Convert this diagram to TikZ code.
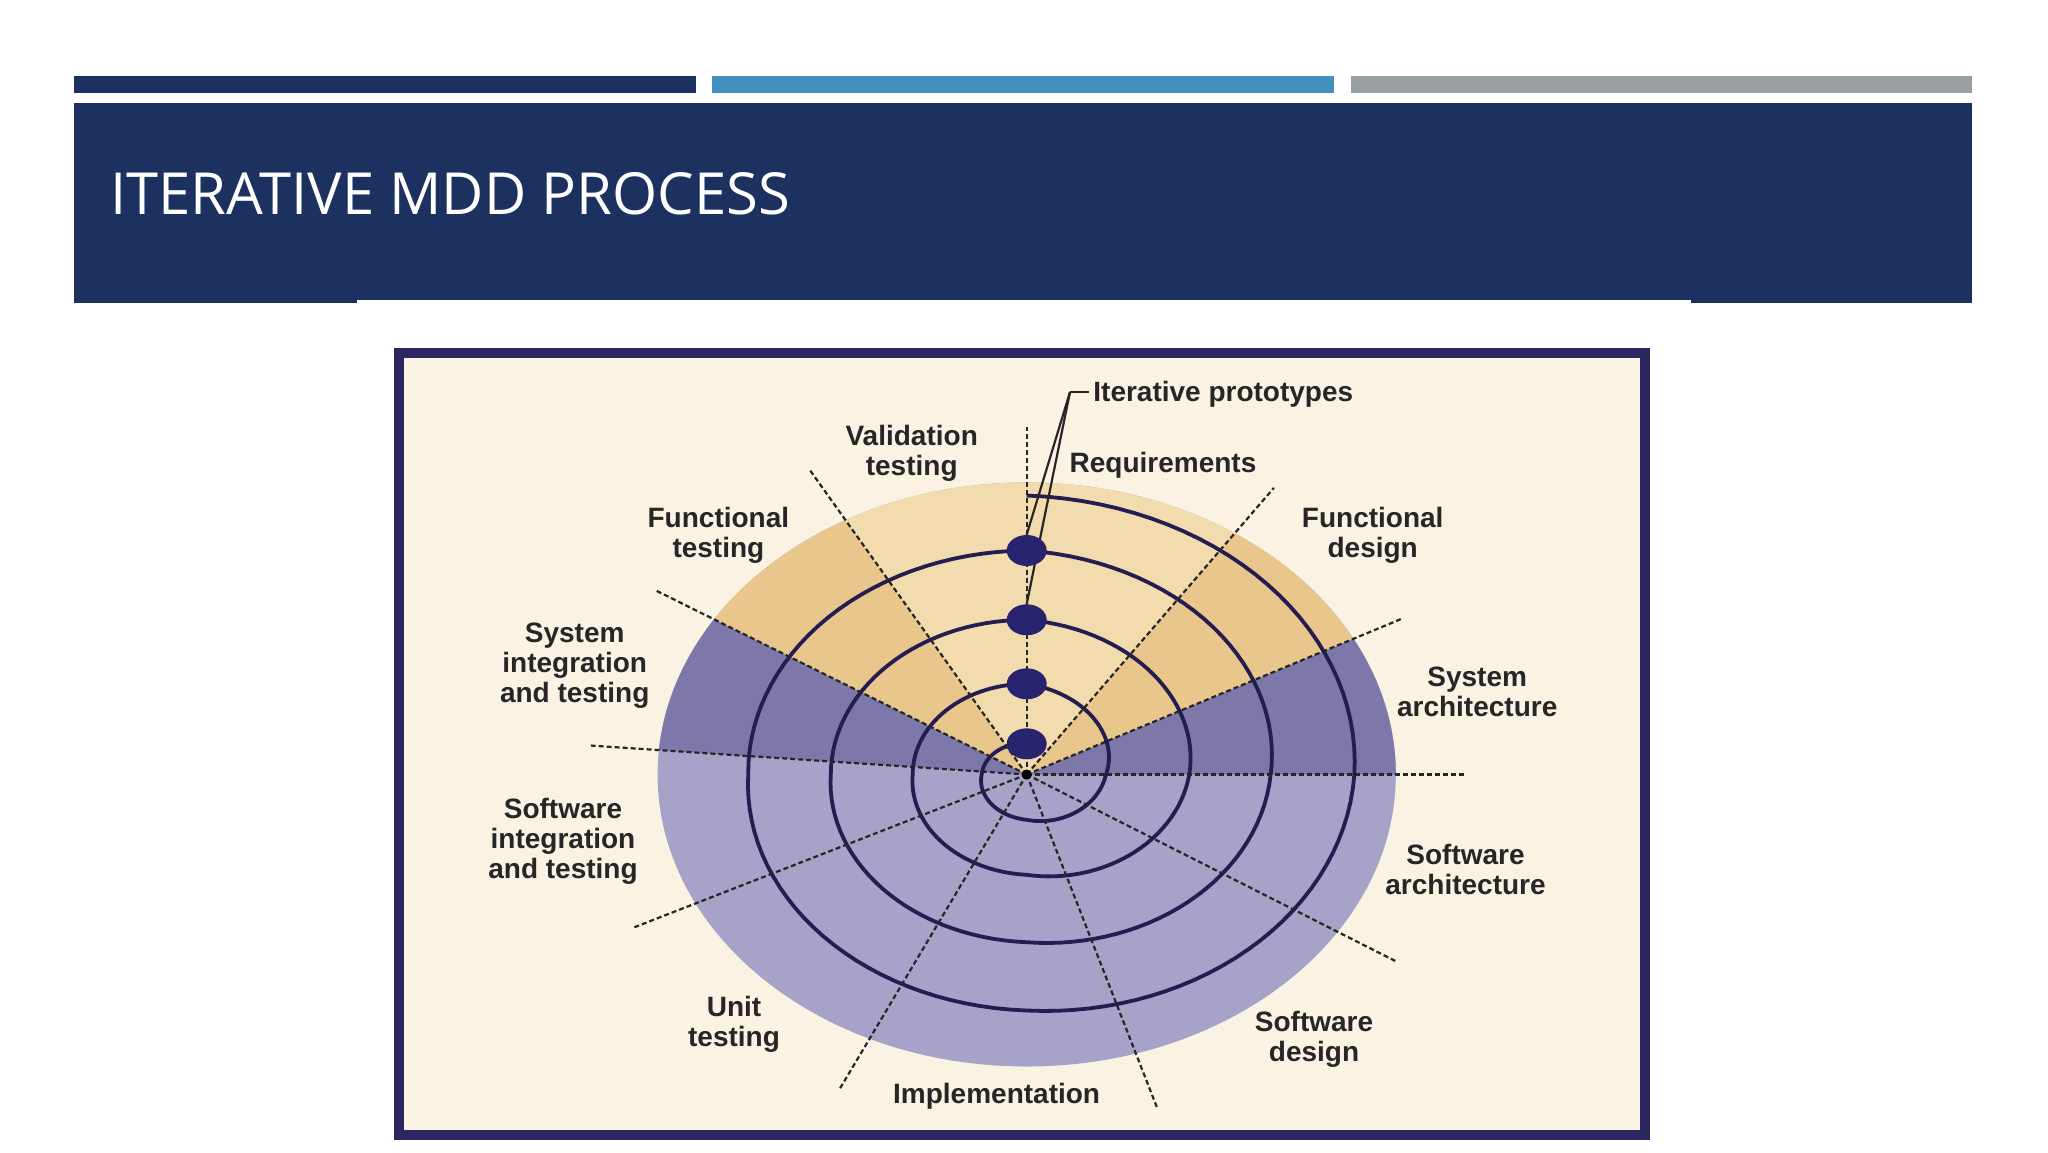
\documentclass[tikz,border=0pt]{standalone}
\usepackage{fontspec}
\setmainfont{Liberation Sans}
\newfontfamily\titlefont{Open Sans}
\usetikzlibrary{shapes.geometric}
\definecolor{navy}{HTML}{1C3160}
\definecolor{barblue}{HTML}{4390BF}
\definecolor{bargray}{HTML}{99A0A4}
\definecolor{cream}{HTML}{FAF3E3}
\definecolor{framec}{HTML}{2C2660}
\definecolor{tandark}{HTML}{E9C68C}
\definecolor{tanlight}{HTML}{F2DCAE}
\definecolor{purpdark}{HTML}{7E77AA}
\definecolor{lav}{HTML}{A7A2C7}
\definecolor{spiralc}{HTML}{241D50}
\definecolor{dotc}{HTML}{28236E}
\definecolor{labc}{HTML}{262626}
\pgfdeclarelayer{back}
\pgfdeclarelayer{mid}
\pgfsetlayers{back,mid,main}
\begin{document}
\begin{tikzpicture}[x=0.5pt,y=-0.5pt,
  lab/.style={font=\bfseries\fontsize{14pt}{15pt}\selectfont, text=labc, align=center, inner sep=0pt},
  radial/.style={draw=black!85, line width=1.1pt, dash pattern=on 2.5pt off 1.5pt},
  spiral/.style={draw=spiralc, line width=1.9pt, line join=round},
  dot/.style={ellipse, fill=dotc, minimum width=20pt, minimum height=15.5pt, inner sep=0pt},
  leader/.style={draw=labc, line width=1.1pt}]
\useasboundingbox (0,0) rectangle (2048,1152);
\begin{pgfonlayer}{back}
\fill[white] (0,0) rectangle (2048,1152);
\fill[navy] (74.4,76) rectangle (696.2,92.7);
\fill[barblue] (711.8,76) rectangle (1333.5,92.7);
\fill[bargray] (1350.5,76) rectangle (1972.2,92.7);
\fill[navy] (74.4,103) rectangle (1972.2,303);
\fill[white] (357,300.3) rectangle (1691,303);
\draw[framec, line width=5pt, fill=cream] (399,353) rectangle (1645,1135);
\end{pgfonlayer}
\node[anchor=base west, inner sep=0pt, text=white, font=\titlefont\fontsize{29pt}{34pt}\selectfont] (title) at (110,214) {ITERATIVE MDD PROCESS};

\begin{scope}[shift={(1026.7,774.5)}, x=0.632pt, y=0.5pt]
\coordinate (c) at (0,0);
\coordinate (sp) at (0,279);
\begin{pgfonlayer}{back}
\fill[lav] (c) circle[radius=292];
\fill[purpdark] (c) -- (0:292) arc[start angle=0, end angle=27.7, radius=292] -- cycle;
\fill[tandark] (c) -- (27.7:292) arc[start angle=27.7, end angle=147.9, radius=292] -- cycle;
\fill[tanlight] (c) -- (55.7:292) arc[start angle=55.7, end angle=119.4, radius=292] -- cycle;
\fill[purpdark] (c) -- (147.9:292) arc[start angle=147.9, end angle=175.2, radius=292] -- cycle;
\draw[spiral] (sp) \foreach \pa/\pb/\ra/\rb in {0/90/279/259.2, 90/180/259.2/236, 180/270/236/220.3, 270/360/220.3/224, 360/450/224/193, 450/540/193/167.7, 540/630/167.7/155, 630/720/155/154.7, 720/810/154.7/128.6, 810/900/128.6/100.3, 900/990/100.3/90.2, 990/1080/90.2/90.7, 1080/1170/90.7/62.7, 1170/1260/62.7/45.3, 1260/1350/45.3/35.6, 1350/1440/35.6/30.7} { -- plot[domain=\pa:\pb, samples=31, variable=\t] ({(\ra+(\rb-\ra)*(\t-\pa)/90)*sin(\t)}, {(\ra+(\rb-\ra)*(\t-\pa)/90)*cos(\t)}) };
\foreach \a/\r [count=\i] in {0/347, 27.7/335, 55.7/347, 90/348, 119.4/349, 147.9/348, 175.2/346, 206.2/347, 244.8/347, 287.2/348, 327.4/348} {
  \coordinate (r\i) at (\a:\r);
  \draw[radial] (c) -- (r\i);
}
\end{pgfonlayer}
\node[dot] (d1) at (0,224) {};
\node[dot] (d2) at (0,154.7) {};
\node[dot] (d3) at (0,90.7) {};
\node[dot] (d4) at (0,30.7) {};
\node[circle, fill=black, minimum size=5pt, inner sep=0pt] (cdot) at (c) {};
\end{scope}

\node[lab, anchor=west] (iter) at (1093,394.7) {Iterative prototypes};
\coordinate (ipc) at (1070,392);
\begin{pgfonlayer}{mid}
\draw[leader] (ipc) -- (d1.north);
\draw[leader] (ipc) -- (d2.north);
\draw[leader, shorten >=2pt] (ipc) -- (iter.west |- ipc);
\end{pgfonlayer}

\node[lab] (req) at (1163,465) {Requirements};
\node[lab] (val) at (911.7,453) {Validation\\testing};
\node[lab] (ft) at (718.4,535) {Functional\\testing};
\node[lab] (fd) at (1372.7,535) {Functional\\design};
\node[lab] (sit) at (574.7,666) {System\\integration\\and testing};
\node[lab] (sa) at (1477.2,691.6) {System\\architecture};
\node[lab] (swit) at (563,841) {Software\\integration\\and testing};
\node[lab] (swa) at (1465.5,869.2) {Software\\architecture};
\node[lab] (ut) at (734,1024.7) {Unit\\testing};
\node[lab] (sd) at (1314,1039) {Software\\design};
\node[lab] (impl) at (996.6,1096) {Implementation};
\end{tikzpicture}
\end{document}
